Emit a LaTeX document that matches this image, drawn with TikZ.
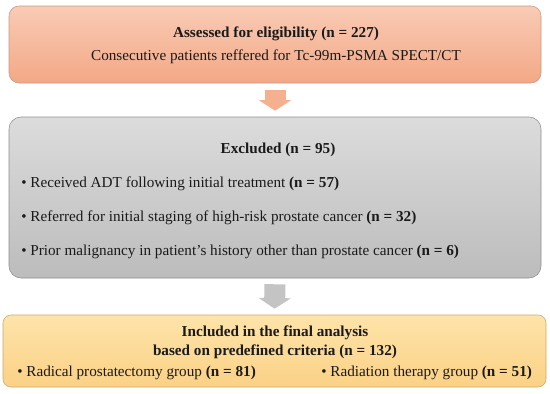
\documentclass[tikz,border=0pt]{standalone}
\usepackage{fontspec}
\setmainfont{Liberation Serif}
\usepackage{tikz}
\usetikzlibrary{arrows.meta}
\definecolor{salmonTop}{HTML}{F9CBB5}
\definecolor{salmonBot}{HTML}{F3A886}
\definecolor{salmonLine}{HTML}{C39A86}
\definecolor{salmonArr}{HTML}{F4B08F}
\definecolor{greyTop}{HTML}{DCDCDC}
\definecolor{greyBot}{HTML}{BCBCBC}
\definecolor{greyLine}{HTML}{8E8E8E}
\definecolor{greyArr}{HTML}{C4C4C4}
\definecolor{goldTop}{HTML}{FDE4AA}
\definecolor{goldBot}{HTML}{FBD185}
\definecolor{goldLine}{HTML}{CFA765}
\definecolor{ink}{HTML}{1A1A1A}

\begin{document}
\begin{tikzpicture}[x=0.75pt, y=-0.75pt,
      font=\fontsize{11.4}{13}\selectfont, text=ink,
      boxO/.style={rounded corners=7.5pt, draw=salmonLine, top color=salmonTop, bottom color=salmonBot,
                   minimum width=399pt, minimum height=57.75pt, inner sep=0pt},
      boxG/.style={rounded corners=9pt, draw=greyLine, top color=greyTop, bottom color=greyBot,
                   minimum width=399pt, minimum height=120.75pt, inner sep=0pt},
      boxY/.style={rounded corners=6pt, draw=goldLine, top color=goldTop, bottom color=goldBot,
                   minimum width=407.25pt, minimum height=54pt, inner sep=0pt},
      txt/.style={inner sep=0pt},
      bul/.style={anchor=west, inner sep=0pt},
      blk/.style={line width=15.75pt, -{Triangle[width=24pt,length=8pt]}},
    ]
    \useasboundingbox (0,0) rectangle (550,393);

    \node[boxO] (assess) at (275,44.5) {};
    \node[txt, font=\fontsize{11.4}{13}\selectfont\bfseries] (assessT) at (276,34) {Assessed for eligibility (n = 227)};
    \node[txt] (assessS) at (276,57) {Consecutive patients reffered for Tc-99m-PSMA SPECT/CT};

    \node[boxG] (excl) at (275,197.5) {};
    \node[txt, font=\fontsize{11.4}{13}\selectfont\bfseries] (exclT) at (278,150) {Excluded (n = 95)};
    \node[bul] (exclA) at (21,184) {\textbullet\ Received ADT following initial treatment \textbf{(n = 57)}};
    \node[bul] (exclB) at (21,218) {\textbullet\ Referred for initial staging of high-risk prostate cancer \textbf{(n = 32)}};
    \node[bul] (exclC) at (21,252) {\textbullet\ Prior malignancy in patient's history other than prostate cancer \textbf{(n = 6)}};

    \node[boxY] (incl) at (274.5,351) {};
    \node[txt, font=\fontsize{11.4}{13}\selectfont\bfseries] (inclT) at (275,333) {Included in the final analysis};
    \node[txt, font=\fontsize{11.4}{13}\selectfont\bfseries] (inclS) at (275,352) {based on predefined criteria (n = 132)};
    \node[bul] (inclA) at (17,373) {\textbullet\ Radical prostatectomy group \textbf{(n = 81)}};
    \node[bul] (inclB) at (321,373) {\textbullet\ Radiation therapy group \textbf{(n = 51)}};

    \draw[blk, salmonArr, shorten <=4.9pt, shorten >=4.5pt] (assess.south) -- (excl.north);
    \draw[blk, greyArr, shorten <=4.5pt, shorten >=4.5pt] (excl.south) -- (incl.north);
  \end{tikzpicture}
\end{document}
